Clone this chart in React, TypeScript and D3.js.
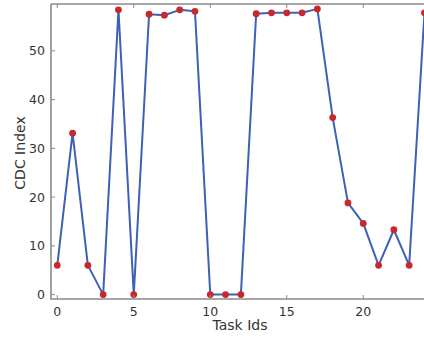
import React, { useEffect, useRef } from "react";
import * as d3 from "d3";

const taskIds = [0, 1, 2, 3, 4, 5, 6, 7, 8, 9, 10, 11, 12, 13, 14, 15, 16, 17, 18, 19, 20, 21, 22, 23, 24];
const cdcIndex = [6, 33.1, 6, 0, 58.4, 0, 57.5, 57.3, 58.4, 58.1, 0, 0, 0, 57.6, 57.8, 57.8, 57.8, 58.6, 36.3, 18.8, 14.6, 6, 13.3, 6, 57.8];
const xTicks = [0, 5, 10, 15, 20];
const yTicks = [0, 10, 20, 30, 40, 50];

const W = 424;
const H = 338;

export default function App() {
  const ref = useRef<SVGSVGElement>(null);

  useEffect(() => {
    const svg = d3.select(ref.current);
    svg.selectAll("*").remove();

    const left = 51, top = 4, bottom = 299;
    const x = d3.scaleLinear().domain([-0.41, 25.5]).range([left, left + 25.91 * 15.3]);
    const y = d3.scaleLinear().domain([-0.9, 59.6]).range([bottom, top]);
    const font = "'DejaVu Sans', sans-serif";
    const spine = "#8a8a8a";

    const g = svg.append("g");

    // line + markers
    const pts = taskIds.map((t, i) => [t, cdcIndex[i]] as [number, number]);
    g.append("path")
      .datum(pts)
      .attr("fill", "none")
      .attr("stroke", "#3d62b3")
      .attr("stroke-width", 2)
      .attr("stroke-linejoin", "round")
      .attr("d", d3.line<[number, number]>().x((d) => x(d[0])).y((d) => y(d[1])));
    g.selectAll("circle")
      .data(pts)
      .join("circle")
      .attr("cx", (d) => x(d[0]))
      .attr("cy", (d) => y(d[1]))
      .attr("r", 3.4)
      .attr("fill", "#c8282e");

    // spines
    const xr = x.range();
    g.append("path")
      .attr("d", `M${xr[0]},${top}V${bottom}H${xr[1]}M${xr[0]},${top}H${xr[1]}`)
      .attr("fill", "none")
      .attr("stroke", spine)
      .attr("stroke-width", 1.6);

    // ticks (inward, top & bottom / left)
    xTicks.forEach((t) => {
      const px = x(t);
      g.append("line").attr("x1", px).attr("x2", px).attr("y1", bottom).attr("y2", bottom - 4).attr("stroke", spine);
      g.append("line").attr("x1", px).attr("x2", px).attr("y1", top).attr("y2", top + 4).attr("stroke", spine);
      g.append("text")
        .attr("x", px)
        .attr("y", bottom + 17)
        .attr("text-anchor", "middle")
        .attr("font-family", font)
        .attr("font-size", 12.5)
        .attr("fill", "#333")
        .text(t);
    });
    yTicks.forEach((t) => {
      const py = y(t);
      g.append("line").attr("x1", xr[0]).attr("x2", xr[0] + 4).attr("y1", py).attr("y2", py).attr("stroke", spine);
      g.append("text")
        .attr("x", xr[0] - 6)
        .attr("y", py + 4.5)
        .attr("text-anchor", "end")
        .attr("font-family", font)
        .attr("font-size", 12.5)
        .attr("fill", "#333")
        .text(t);
    });

    // axis labels
    g.append("text")
      .attr("x", 240)
      .attr("y", 330)
      .attr("text-anchor", "middle")
      .attr("font-family", font)
      .attr("font-size", 14)
      .attr("fill", "#333")
      .text("Task Ids");
    g.append("text")
      .attr("transform", `translate(25,153) rotate(-90)`)
      .attr("text-anchor", "middle")
      .attr("font-family", font)
      .attr("font-size", 14)
      .attr("fill", "#333")
      .text("CDC Index");
  }, []);

  return (
    <svg
      ref={ref}
      width={W}
      height={H}
      style={{ position: "absolute", left: 0, top: 0, background: "#fff" }}
    />
  );
}
